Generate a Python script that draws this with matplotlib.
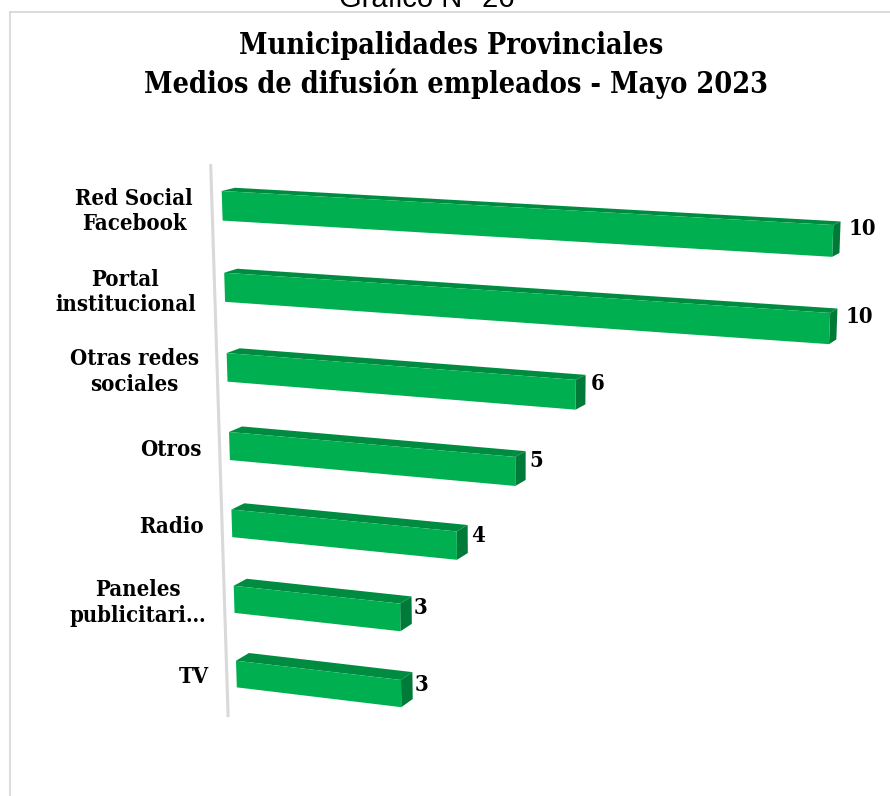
import numpy as np
import matplotlib
matplotlib.use("Agg")
import matplotlib.pyplot as plt
import matplotlib.transforms as mtransforms
from matplotlib.patches import Polygon
from matplotlib.lines import Line2D

# ---------------- data ----------------
categories = ['Red Social\nFacebook', 'Portal\ninstitucional', 'Otras redes\nsociales',
              'Otros', 'Radio', 'Paneles\npublicitari…', 'TV']
values = [10, 10, 6, 5, 4, 3, 3]
title_lines = ['Municipalidades Provinciales', 'Medios de difusión empleados - Mayo 2023']
caption = 'Gráfico N° 26'

# ---------------- layout / style ----------------
W, H = 890, 796
FRONT = '#00B050'
TOP = '#008C40'
SIDE = '#007A38'
AXIS_GRAY = '#D9D9D9'
SERIF = ['DejaVu Serif']
BAR_T = 0.36            # bar thickness in row units
# perspective calibration of the value/row plane (value, row) -> canvas px
ANCHOR_UV = np.array([(0, 0), (10, 0), (0, 6), (3, 6)], float)
ANCHOR_PX = np.array([(221.7, 191.0), (833.3, 225.0), (236.0, 660.7), (401.0, 680.0)], float)
VANISH = (1600.0, -150.0)   # depth vanishing point
DEPTH_K = 0.0095


def fit_homography(src, dst):
    A, b = [], []
    for (x, y), (X, Y) in zip(src, dst):
        A.append([x, y, 1, 0, 0, 0, -X * x, -X * y]); b.append(X)
        A.append([0, 0, 0, x, y, 1, -Y * x, -Y * y]); b.append(Y)
    h = np.linalg.solve(np.array(A, float), np.array(b, float))
    return np.append(h, 1.0).reshape(3, 3)


class Homography(mtransforms.Transform):
    input_dims = 2
    output_dims = 2
    is_separable = False
    has_inverse = False

    def __init__(self, M):
        super().__init__()
        self._M = M

    def transform_non_affine(self, values):
        v = np.atleast_2d(np.asarray(values, float))
        p = np.c_[v, np.ones(len(v))] @ self._M.T
        return p[:, :2] / p[:, 2:3]


fig = plt.figure(figsize=(W / 100, H / 100), dpi=100)
ax = fig.add_axes([0, 0, 1, 1])
ax.set_xlim(0, W)
ax.set_ylim(H, 0)
ax.axis('off')

front = Homography(fit_homography(ANCHOR_UV, ANCHOR_PX))
depth = mtransforms.Affine2D().translate(-VANISH[0], -VANISH[1]).scale(1 - DEPTH_K).translate(*VANISH)
back = front + depth

# frame lines
ax.add_line(Line2D([10, W], [12.3, 12.3], color=AXIS_GRAY, lw=1.3))
ax.add_line(Line2D([10, 10], [12.3, H], color=AXIS_GRAY, lw=1.3))
ax.text(427, 7, caption, ha='center', va='baseline', fontsize=21,
        family=['Liberation Sans', 'DejaVu Sans'], color='black')

# titles
ax.text(451, 46, title_lines[0], ha='center', va='center', fontsize=20.6,
        fontweight='bold', family=SERIF, fontstretch='condensed')
ax.text(456, 84, title_lines[1], ha='center', va='center', fontsize=20.6,
        fontweight='bold', family=SERIF, fontstretch='condensed')

# vertical category axis
ax.add_line(Line2D([-0.18, -0.18], [-0.3, 6.76], color=AXIS_GRAY, lw=2.2,
                   transform=front + ax.transData))

for i, (cat, v) in enumerate(zip(categories, values)):
    top_f = front.transform([(0, i), (v, i)])
    top_b = back.transform([(0, i), (v, i)])
    end_f = front.transform([(v, i), (v, i + BAR_T)])
    end_b = back.transform([(v, i), (v, i + BAR_T)])
    ax.add_patch(Polygon([top_f[0], top_f[1], top_b[1], top_b[0]], closed=True,
                         facecolor=TOP, edgecolor='none', transform=ax.transData))
    ax.add_patch(Polygon([end_f[0], end_f[1], end_b[1], end_b[0]], closed=True,
                         facecolor=SIDE, edgecolor='none', transform=ax.transData))
    ax.add_patch(Polygon([(0, i), (v, i), (v, i + BAR_T), (0, i + BAR_T)], closed=True,
                         facecolor=FRONT, edgecolor='none', transform=front + ax.transData))
    # category label
    ax.text(-0.52, i + BAR_T / 2 + 0.09, cat, ha='right', va='center', multialignment='center',
            fontsize=15.8, fontweight='bold', family=SERIF, fontstretch='condensed',
            linespacing=1.22, transform=front + ax.transData)
    # value label
    ax.text(v + 0.24, i + 0.04, f'{v}', ha='left', va='center', fontsize=15.8,
            fontweight='bold', family=SERIF, fontstretch='condensed',
            transform=front + ax.transData)

fig.savefig('out.png', dpi=100, facecolor='white')
